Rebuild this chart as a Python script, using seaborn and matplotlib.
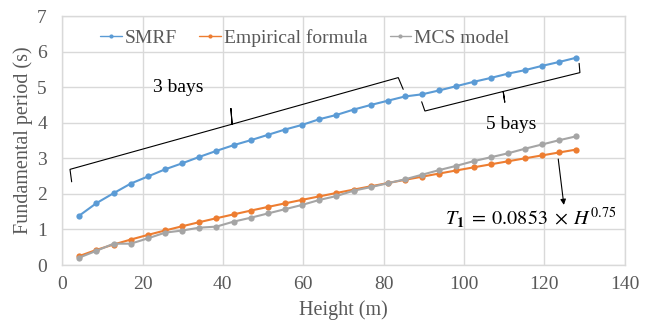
import matplotlib
matplotlib.use("Agg")
import matplotlib.pyplot as plt
import seaborn as sns
import pandas as pd

# Building heights (m), one point per storey
heights = [4.27, 8.53, 12.80, 17.07, 21.34, 25.60, 29.87, 34.14, 38.40, 42.67,
           46.94, 51.21, 55.47, 59.74, 64.01, 68.28, 72.54, 76.81, 81.08, 85.34,
           89.61, 93.88, 98.15, 102.41, 106.68, 110.95, 115.21, 119.48, 123.75, 128.02]

# Fundamental periods (s)
smrf = [1.39, 1.74, 2.02, 2.29, 2.49, 2.69, 2.86, 3.04, 3.21, 3.37,
        3.51, 3.66, 3.81, 3.94, 4.10, 4.22, 4.37, 4.50, 4.62, 4.74,
        4.80, 4.91, 5.03, 5.15, 5.26, 5.38, 5.48, 5.60, 5.71, 5.83]
empirical = [0.253, 0.426, 0.577, 0.716, 0.847, 0.971, 1.090, 1.205, 1.316, 1.424,
             1.530, 1.633, 1.734, 1.833, 1.930, 2.026, 2.120, 2.213, 2.305, 2.395,
             2.484, 2.573, 2.660, 2.746, 2.831, 2.916, 3.000, 3.083, 3.165, 3.247]
mcs = [0.21, 0.40, 0.60, 0.60, 0.75, 0.91, 0.97, 1.05, 1.08, 1.22,
       1.33, 1.45, 1.57, 1.69, 1.83, 1.94, 2.09, 2.19, 2.30, 2.41,
       2.54, 2.67, 2.79, 2.92, 3.03, 3.14, 3.27, 3.39, 3.51, 3.62]

series_names = ["SMRF", "Empirical formula", "MCS model"]
series_colors = ["#5B9BD5", "#ED7D31", "#A5A5A5"]
x_ticks = [0, 20, 40, 60, 80, 100, 120, 140]
y_ticks = [0, 1, 2, 3, 4, 5, 6, 7]

sns.set_theme(style="white")
plt.rcParams["font.family"] = ["Liberation Serif", "DejaVu Serif"]
plt.rcParams["mathtext.fontset"] = "stix"

text_color = "#595959"
grid_color = "#D9D9D9"

fig = plt.figure(figsize=(6.56, 3.28), dpi=100)
ax = fig.add_axes([0.0948, 0.192, 0.8572, 0.759])

df = pd.DataFrame({"Height": heights, "SMRF": smrf,
                   "Empirical formula": empirical, "MCS model": mcs})

for name, color in zip(series_names, series_colors):
    sns.lineplot(data=df, x="Height", y=name, ax=ax, color=color, marker="o",
                 markersize=4.5, markeredgewidth=0, linewidth=1.5, label=name,
                 zorder=3)

ax.set_xlim(0, 140)
ax.set_ylim(0, 7)
ax.set_xticks(x_ticks)
ax.set_yticks(y_ticks)
ax.grid(True, color=grid_color, linewidth=1)
ax.set_axisbelow(True)
for sp in ax.spines.values():
    sp.set_color(grid_color)
    sp.set_linewidth(1)

ax.tick_params(axis="both", length=0, labelsize=14, colors=text_color)
ax.tick_params(axis="x", pad=8)
ax.tick_params(axis="y", pad=11)
ax.set_xlabel("Height (m)", fontsize=14.5, color=text_color, labelpad=5)
ax.set_ylabel("Fundamental period (s)", fontsize=14.5, color=text_color, labelpad=3)

leg = ax.legend(loc="center", bbox_to_anchor=(305 / 656, 1 - 38.3 / 328),
                bbox_transform=fig.transFigure, ncol=3, frameon=False,
                fontsize=14, handlelength=1.1, handletextpad=0.17,
                columnspacing=1.13, borderpad=0)
for t in leg.get_texts():
    t.set_color(text_color)
for ln in leg.get_lines():
    ln.set_linewidth(1)
    ln.set_markersize(3)

# Braces grouping the 3-bay and 5-bay frames
brace_kw = dict(color="black", linewidth=0.8, zorder=4, solid_joinstyle="miter")
ax.plot([2.36, 1.94, 42.3, 42.0, 42.3, 83.67, 84.9],
        [2.34, 2.69, 3.96, 4.41, 3.96, 5.27, 4.94], **brace_kw)
ax.plot([89.5, 90.3, 109.8, 110.2, 109.8, 128.9, 128.7],
        [4.59, 4.33, 4.88, 4.57, 4.88, 5.41, 5.67], **brace_kw)

ax.text(22.5, 4.86, "3 bays", fontsize=14, color="black", ha="left", va="baseline")
ax.text(105.5, 3.83, "5 bays", fontsize=14, color="black", ha="left", va="baseline")

ax.annotate("", xy=(124.9, 1.69), xytext=(123.5, 2.98),
            arrowprops=dict(arrowstyle="-|>", color="black", lw=0.8,
                            mutation_scale=8, shrinkA=0, shrinkB=0))
ax.text(95.3, 1.14, r"$T_{\mathbf{1}}\;=\;0.0853\;\times\;H^{0.75}$", fontsize=14.5,
        color="black", ha="left", va="baseline")

fig.savefig("out.png", dpi=100)
